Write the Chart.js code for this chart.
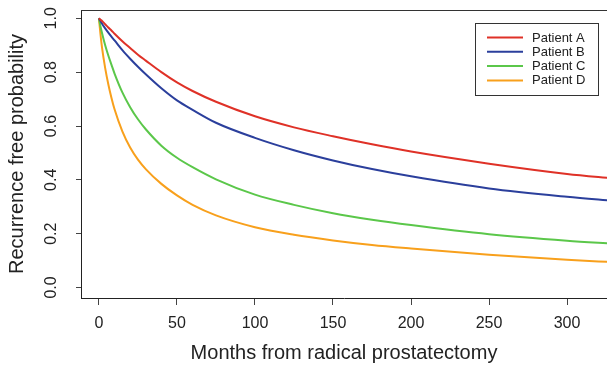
<!DOCTYPE html>
<html>
<head>
<meta charset="utf-8">
<script src="https://cdn.jsdelivr.net/npm/chart.js@4/dist/chart.umd.min.js"></script>
<style>
  html, body { margin: 0; padding: 0; background: #fff; }
</style>
</head>
<body>
<canvas id="survChart" width="607" height="366"></canvas>
<script>
// values
var months   = [0, 1, 2, 4, 6, 8, 10, 15, 20, 25, 30, 40, 50, 60, 75, 100, 125, 150, 175, 200, 250, 300, 330];
var patientA = [1.0, 0.995, 0.99, 0.978, 0.966, 0.955, 0.943, 0.915, 0.89, 0.865, 0.843, 0.80, 0.762, 0.73, 0.69, 0.636, 0.595, 0.562, 0.532, 0.505, 0.46, 0.422, 0.405];
var patientB = [1.0, 0.99, 0.98, 0.963, 0.947, 0.932, 0.918, 0.882, 0.85, 0.82, 0.792, 0.74, 0.695, 0.66, 0.612, 0.556, 0.51, 0.472, 0.44, 0.413, 0.368, 0.337, 0.322];
var patientC = [1.0, 0.97, 0.945, 0.9, 0.862, 0.828, 0.795, 0.725, 0.67, 0.625, 0.588, 0.527, 0.482, 0.447, 0.402, 0.345, 0.307, 0.276, 0.252, 0.232, 0.198, 0.174, 0.163];
var patientD = [1.0, 0.94, 0.89, 0.815, 0.755, 0.705, 0.662, 0.58, 0.52, 0.475, 0.44, 0.385, 0.342, 0.307, 0.268, 0.224, 0.196, 0.175, 0.158, 0.145, 0.122, 0.103, 0.094];

var seriesNames  = ['Patient A', 'Patient B', 'Patient C', 'Patient D'];
var seriesColors = ['#df3127', '#2b3f9c', '#5bc74a', '#f8a01c'];
var xTicks = [0, 50, 100, 150, 200, 250, 300];
var yTicks = [0, 0.2, 0.4, 0.6, 0.8, 1.0];

Chart.defaults.font.family = '"Liberation Sans", Arial, Helvetica, sans-serif';
Chart.defaults.color = '#222';

function toPoints(vals){
  return months.map(function(m, i){ return {x: m, y: vals[i]}; });
}

var allSeries = [patientA, patientB, patientC, patientD];
var datasets = allSeries.map(function(vals, i){
  return {
    label: seriesNames[i],
    data: toPoints(vals),
    borderColor: seriesColors[i],
    borderWidth: 2,
    pointRadius: 0,
    fill: false,
    cubicInterpolationMode: 'monotone'
  };
});

// top edge of the box, rotated y labels (R style) and the legend inside the plot
var boxPlugin = {
  id: 'boxLegend',
  afterDraw: function(chart){
    var ctx = chart.ctx, a = chart.chartArea;
    ctx.save();
    ctx.strokeStyle = '#333';
    ctx.lineWidth = 1;
    ctx.beginPath();
    ctx.moveTo(a.left, a.top + 0.5);
    ctx.lineTo(a.right, a.top + 0.5);
    ctx.stroke();

    // y tick labels, reading bottom to top
    var ys = chart.scales.y;
    ctx.font = '16px "Liberation Sans", Arial, sans-serif';
    ctx.fillStyle = '#222';
    ctx.textAlign = 'center';
    ctx.textBaseline = 'middle';
    yTicks.forEach(function(v){
      var py = ys.getPixelForValue(v);
      ctx.save();
      ctx.translate(52, py);
      ctx.rotate(-Math.PI / 2);
      ctx.fillText(v.toFixed(1), 0, 0);
      ctx.restore();
    });

    var lx = 475, ly = 23, lw = 123, lh = 72;
    ctx.fillStyle = '#fff';
    ctx.fillRect(lx, ly, lw, lh);
    ctx.strokeStyle = '#333';
    ctx.strokeRect(lx + 0.5, ly + 0.5, lw, lh);
    ctx.font = '13px "Liberation Sans", Arial, sans-serif';
    ctx.textBaseline = 'middle';
    ctx.textAlign = 'left';
    chart.data.datasets.forEach(function(ds, i){
      var rowY = ly + 14.5 + i * 14.3;
      ctx.strokeStyle = ds.borderColor;
      ctx.lineWidth = 2;
      ctx.beginPath();
      ctx.moveTo(lx + 12, rowY);
      ctx.lineTo(lx + 48, rowY);
      ctx.stroke();
      ctx.fillStyle = '#222';
      ctx.fillText(ds.label, lx + 57, rowY + 0.5);
    });
    ctx.restore();
  }
};

var myChart = new Chart(document.getElementById('survChart'), {
  type: 'line',
  data: { datasets: datasets },
  options: {
    responsive: false,
    animation: false,
    layout: { padding: { top: 10, left: 0, right: 0, bottom: 0 } },
    plugins: { legend: { display: false }, tooltip: { enabled: false } },
    scales: {
      x: {
        type: 'linear',
        min: -11.5,
        max: 325.6,
        afterBuildTicks: function(scale){
          scale.ticks = xTicks.map(function(v){ return {value: v}; });
        },
        afterFit: function(scale){
          scale.height = 68;
          scale.paddingLeft = 0;
          scale.paddingRight = 0;
        },
        grid: { drawOnChartArea: false, drawTicks: true, tickLength: 7, color: '#444' },
        border: { display: true, color: '#222', width: 1 },
        ticks: { font: { size: 16 }, padding: 9, color: '#222', maxRotation: 0 },
        title: {
          display: true,
          text: 'Months from radical prostatectomy',
          font: { size: 20 },
          color: '#222',
          padding: { top: 0, bottom: 1 }
        }
      },
      y: {
        min: -0.039,
        max: 1.031,
        afterBuildTicks: function(scale){
          scale.ticks = yTicks.map(function(v){ return {value: v}; });
        },
        afterFit: function(scale){
          scale.width = 81;
          scale.paddingTop = 0;
          scale.paddingBottom = 0;
        },
        grid: { drawOnChartArea: false, drawTicks: true, tickLength: 5, color: '#444' },
        border: { display: true, color: '#222', width: 1 },
        ticks: { display: false },
        title: {
          display: true,
          text: 'Recurrence free probability',
          font: { size: 20 },
          color: '#222',
          padding: { top: 5, bottom: 0 }
        }
      }
    }
  },
  plugins: [boxPlugin]
});
</script>
</body>
</html>
